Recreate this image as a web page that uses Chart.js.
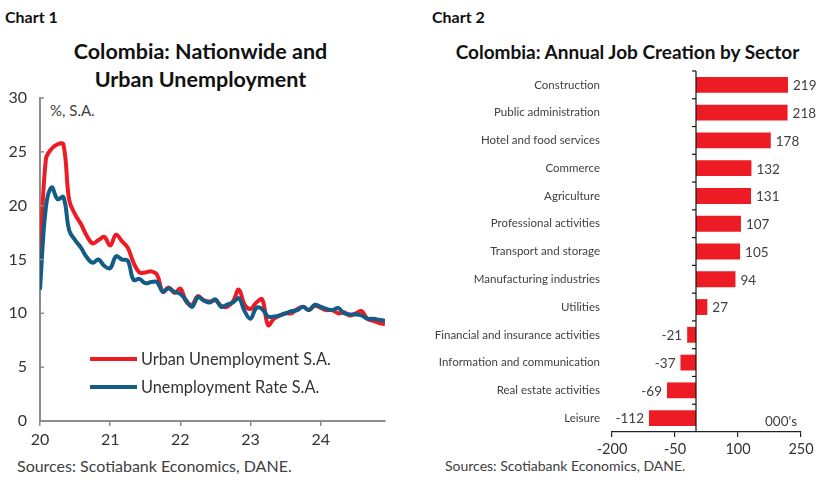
<!DOCTYPE html>
<html><head><meta charset="utf-8">
<script src="https://cdn.jsdelivr.net/npm/chart.js@4/dist/chart.umd.min.js"></script>
<style>
body{margin:0;background:#fff;width:828px;height:483px;overflow:hidden;position:relative;font-family:Lato,"Open Sans",sans-serif;}
.t{position:absolute;white-space:nowrap;}
canvas{position:absolute;top:0;}
</style></head><body>
<div class="t" style="left:5px;top:7px;font-weight:bold;font-size:16px;color:#111">Chart 1</div>
<div class="t" style="left:432px;top:7px;font-weight:bold;font-size:16px;color:#111">Chart 2</div>
<div class="t" style="left:0;width:401px;text-align:center;top:37px;font-size:21.5px;font-weight:bold;line-height:28px;color:#111">Colombia: Nationwide and<br>Urban Unemployment</div>
<div class="t" style="left:420px;width:415px;text-align:center;top:40px;font-size:19px;font-weight:bold;color:#111">Colombia: Annual Job Creation by Sector</div>
<div class="t" style="left:50px;top:101px;font-size:15px;color:#404040">%, S.A.</div>
<div class="t" style="left:17px;top:456px;font-size:16px;color:#404040">Sources: Scotiabank Economics, DANE.</div>
<div class="t" style="left:445px;top:457px;font-size:14px;color:#404040">Sources: Scotiabank Economics, DANE.</div>
<canvas id="c1" width="400" height="483" style="left:0"></canvas>
<canvas id="c2" width="408" height="483" style="left:420px"></canvas>
<script>
// ---- Chart 1 data (monthly, starting 2020) ----
const yearLabels = ['20','21','22','23','24'];
const seriesNames = ['Urban Unemployment S.A.','Unemployment Rate S.A.'];
const urbanSA = [14.5,24.3,25.3,25.7,25.7,20.5,19.2,18.3,17.2,16.5,
                 16.8,17.1,16.3,17.3,16.7,16.1,14.7,13.8,13.8,13.9,
                 13.6,12.0,12.4,11.9,12.3,11.1,10.8,11.6,11.2,11.1,
                 11.2,10.7,10.6,11.1,12.2,10.8,10.4,11.0,11.3,8.9,
                 9.5,9.8,10.0,10.0,10.4,10.6,10.3,10.7,10.5,10.3,
                 10.3,10.0,10.1,9.8,10.0,10.2,9.5,9.3,9.1,9.0];
const nationalSA = [12.2,19.8,21.7,20.6,20.8,17.7,16.8,16.1,15.2,14.7,
                    15.0,14.4,14.2,15.3,15.0,14.9,13.1,13.2,12.8,12.9,
                    12.9,12.0,12.3,12.0,11.8,11.2,10.6,11.5,11.2,11.0,
                    11.3,10.6,10.8,11.0,11.4,10.2,9.5,10.5,10.4,9.7,
                    9.7,9.8,10.0,10.2,10.3,10.6,10.3,10.8,10.6,10.4,
                    10.3,10.5,10.0,9.9,9.9,9.8,9.5,9.5,9.4,9.3];
const yTicks1 = [0,5,10,15,20,25,30];

// ---- Chart 2 data ----
const sectors = ['Construction','Public administration','Hotel and food services','Commerce','Agriculture',
  'Professional activities','Transport and storage','Manufacturing industries','Utilities',
  'Financial and insurance activities','Information and communication','Real estate activities','Leisure'];
const jobs = [219,218,178,132,131,107,105,94,27,-21,-37,-69,-112];
const xTicks2 = [-200,-50,100,250];

const RED = '#ED1C24', BLUE = '#135C86', GREY = '#8c8c8c', TXT = '#404040';
const FONT = 'Lato';

const legend1 = {
  id:'legend1',
  afterDraw(chart){
    const ctx = chart.ctx;
    const ys = [359,387];
    chart.data.datasets.forEach((ds,i)=>{
      ctx.save();
      ctx.strokeStyle = ds.borderColor; ctx.lineWidth = 4; ctx.lineCap='butt';
      ctx.beginPath(); ctx.moveTo(90,ys[i]); ctx.lineTo(137,ys[i]); ctx.stroke();
      ctx.fillStyle = '#333'; ctx.font = '16.3px '+FONT; ctx.textBaseline='middle'; ctx.textAlign='left';
      ctx.fillText(ds.label,141,ys[i]+1);
      ctx.restore();
    });
    const y = chart.scales.y, ca = chart.chartArea;
    ctx.save(); ctx.strokeStyle = GREY; ctx.lineWidth = 1.5;
    yTicks1.forEach(v=>{ const p=y.getPixelForValue(v); ctx.beginPath(); ctx.moveTo(ca.left,p); ctx.lineTo(ca.left+4,p); ctx.stroke(); });
    ctx.restore();
  }
};

new Chart(document.getElementById('c1'),{
  type:'line',
  data:{datasets:[
    {label:seriesNames[0],data:urbanSA.map((v,i)=>({x:i,y:v})),borderColor:RED,borderWidth:4,pointRadius:0,tension:0.4,order:2},
    {label:seriesNames[1],data:nationalSA.map((v,i)=>({x:i,y:v})),borderColor:BLUE,borderWidth:4,pointRadius:0,tension:0.4,order:1}
  ]},
  options:{
    responsive:false,animation:false,
    layout:{padding:{top:98,right:15,bottom:32,left:0}},
    plugins:{legend:{display:false},tooltip:{enabled:false}},
    scales:{
      x:{type:'linear',min:0,max:urbanSA.length-1,
        ticks:{stepSize:12,includeBounds:false,autoSkip:false,maxRotation:0,padding:4,color:'#333',font:{family:FONT,size:16},
          callback:v=> (v%12===0 ? yearLabels[v/12] : '')},
        grid:{drawOnChartArea:false,drawTicks:true,tickLength:5,color:GREY,lineWidth:1.5},
        border:{color:GREY,width:2},
        afterFit:s=>{s.height=30;}},
      y:{min:0,max:30,
        ticks:{stepSize:5,padding:13,color:'#333',font:{family:FONT,size:16}},
        grid:{drawOnChartArea:false,drawTicks:false},
        border:{color:GREY,width:2},
        afterFit:s=>{s.width=40;}}
    }
  },
  plugins:[legend1]
});

const deco2 = {
  id:'deco2',
  afterDatasetsDraw(chart){
    const ctx = chart.ctx, ca = chart.chartArea, x = chart.scales.x;
    const x0 = x.getPixelForValue(0);
    ctx.save();
    ctx.strokeStyle = '#111'; ctx.lineWidth = 1.2;
    ctx.beginPath(); ctx.moveTo(x0,ca.top); ctx.lineTo(x0,ca.bottom); ctx.stroke();
    const n = sectors.length, h = (ca.bottom-ca.top)/n;
    for(let i=0;i<n;i++){ const yy = ca.top + i*h; ctx.beginPath(); ctx.moveTo(x0-4,yy); ctx.lineTo(x0,yy); ctx.stroke(); }
    const meta = chart.getDatasetMeta(0);
    ctx.fillStyle = TXT; ctx.font = '13.5px '+FONT; ctx.textBaseline='middle';
    meta.data.forEach((bar,i)=>{
      const v = jobs[i];
      if(v>=0){ ctx.textAlign='left'; ctx.fillText(String(v), bar.x+5, bar.y+1); }
      else { ctx.textAlign='right'; ctx.fillText(String(v), bar.x-5, bar.y+1); }
    });
    ctx.textAlign='right'; ctx.fillText("000's", ca.right-4, ca.bottom-10);
    ctx.restore();
  }
};

new Chart(document.getElementById('c2'),{
  type:'bar',
  data:{labels:sectors,datasets:[{data:jobs,backgroundColor:RED,categoryPercentage:1,barPercentage:0.57}]},
  options:{
    indexAxis:'y',responsive:false,animation:false,
    layout:{padding:{top:71,right:27,bottom:21,left:0}},
    plugins:{legend:{display:false},tooltip:{enabled:false}},
    scales:{
      x:{min:xTicks2[0],max:xTicks2[xTicks2.length-1],
        ticks:{stepSize:xTicks2[1]-xTicks2[0],padding:4,color:'#333',font:{family:FONT,size:14.5}},
        grid:{drawOnChartArea:false,drawTicks:true,tickLength:5,color:'#222',lineWidth:1.2},
        border:{color:'#222',width:1.2},
        afterFit:s=>{s.height=30;}},
      y:{ticks:{padding:12,color:TXT,font:{family:FONT,size:11.5},autoSkip:false},
        grid:{display:false,drawTicks:false},
        border:{display:false},
        afterFit:s=>{s.width=192;}}
    }
  },
  plugins:[deco2]
});
</script>
</body></html>
